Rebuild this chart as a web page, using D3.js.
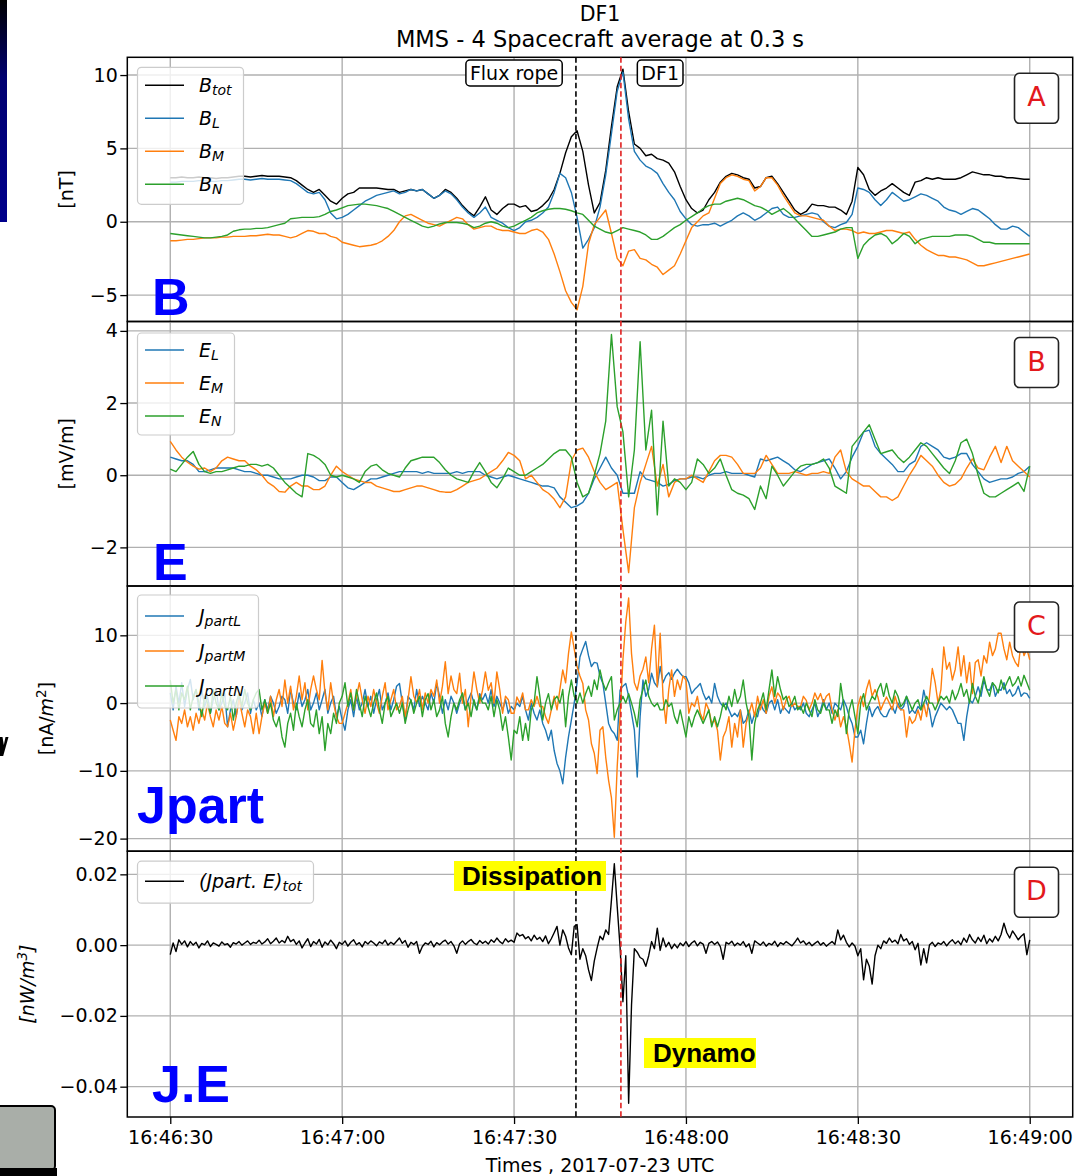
<!DOCTYPE html>
<html>
<head>
<meta charset="utf-8">
<script src="https://cdn.jsdelivr.net/npm/d3@7/dist/d3.min.js"></script>
<style>
html,body{margin:0;padding:0;background:#fff;}
svg{display:block;}
</style>
</head>
<body>
<svg id="chart" width="1075" height="1176"></svg>
<script>
// ================= DATA =================
const startTimeUTC = "2017-07-23T16:46:30Z";
const bStep = 1;    // seconds between samples (magnetic field)
const eStep = 1;    // electric field
const jStep = 0.5;  // particle current density
const jeStep = 0.5; // J.E

const titleLines = ["DF1", "MMS - 4 Spacecraft average at 0.3 s"];
const xAxisTitle = "Times , 2017-07-23 UTC";
const xTickEverySec = 30;

// Panel A : magnetic field [nT]
const bTot = [3.0,3.0,3.05,3.0,3.0,3.05,3.0,3.0,2.95,3.0,
 3.0,3.05,3.1,3.1,3.05,3.1,3.15,3.1,3.1,3.1,
 3.05,3.0,2.8,2.5,2.2,2.0,2.2,1.8,1.4,1.2,
 1.6,1.9,2.0,2.3,2.3,2.3,2.3,2.25,2.2,2.2,
 2.0,2.1,2.2,2.1,2.2,1.9,1.6,1.8,2.2,2.0,
 1.6,1.1,0.7,0.4,1.0,1.7,0.8,0.5,0.9,1.2,
 1.2,1.0,1.1,0.7,0.8,1.1,1.5,2.2,3.3,4.7,
 5.8,6.2,4.8,2.5,0.6,1.3,3.5,6.5,9.2,10.4,
 7.5,5.3,5.0,4.5,4.6,4.3,4.2,4.0,3.4,2.4,
 1.5,0.9,0.6,0.8,1.5,2.0,2.7,3.1,3.3,3.2,
 3.0,2.9,2.3,2.4,3.0,3.1,2.6,2.0,1.4,0.8,
 0.5,0.7,1.2,1.1,1.1,1.0,1.0,0.8,0.5,1.4,
 3.7,3.2,2.2,1.8,2.1,2.3,2.6,2.3,2.0,1.8,
 2.7,2.8,3.0,2.9,3.0,2.9,2.9,2.9,3.0,3.2,
 3.4,3.3,3.2,3.2,3.1,3.1,3.0,3.0,2.95,2.9,
 2.9];
const bL = [2.7,2.7,2.75,2.75,2.75,2.8,2.8,2.75,2.75,2.8,
 2.8,2.85,2.9,2.9,2.85,2.9,2.95,2.9,2.9,2.9,
 2.85,2.8,2.6,2.3,2.0,1.9,2.0,1.5,0.6,0.2,
 0.3,0.5,0.8,1.1,1.4,1.6,1.8,1.9,2.0,2.1,
 1.9,2.0,2.2,2.1,2.2,1.9,1.6,1.8,2.1,1.9,
 1.5,1.0,0.6,0.3,0.6,1.0,0.3,0.1,-0.1,-0.4,
 -0.6,-0.4,0.0,0.1,0.3,0.6,1.0,2.0,3.3,3.0,
 2.0,0.3,-1.8,-1.2,-0.4,1.0,3.2,6.0,8.9,10.2,
 7.0,4.8,4.2,3.8,3.6,3.3,2.6,2.0,1.5,0.7,
 0.2,-0.2,-0.3,-0.2,-0.2,-0.1,-0.3,-0.1,0.1,0.4,
 0.6,0.4,0.1,0.3,0.6,0.9,1.0,0.5,0.3,0.3,
 0.4,0.5,0.6,0.5,0.0,-0.3,-0.4,-0.2,-0.05,0.5,
 2.3,2.2,2.0,1.5,1.1,1.5,2.0,1.7,1.4,1.5,
 1.7,1.9,1.8,1.6,1.4,1.0,0.8,0.7,0.5,0.7,
 0.9,0.8,0.5,0.2,-0.2,-0.5,-0.5,-0.3,-0.4,-0.7,
 -1.0];
const bM = [-1.3,-1.3,-1.25,-1.2,-1.2,-1.15,-1.1,-1.1,-1.1,-1.05,
 -1.05,-1.0,-1.0,-1.0,-0.95,-0.95,-0.9,-0.85,-0.9,-0.9,
 -1.0,-1.1,-1.0,-0.8,-0.6,-0.65,-0.8,-0.8,-1.0,-1.1,
 -1.4,-1.5,-1.6,-1.7,-1.65,-1.6,-1.5,-1.3,-1.0,-0.6,
 0.0,0.4,0.5,0.3,0.1,-0.1,-0.2,-0.3,-0.1,0.1,
 0.3,0.2,-0.2,-0.5,-0.4,-0.3,-0.3,-0.5,-0.6,-0.6,
 -0.7,-0.8,-0.8,-0.6,-0.5,-0.7,-1.2,-2.2,-3.4,-4.7,
 -5.5,-6.0,-4.4,-1.5,-0.2,0.3,0.8,-0.8,-2.5,-3.0,
 -2.0,-1.9,-2.5,-2.6,-2.9,-3.1,-3.6,-3.3,-3.0,-2.2,
 -1.3,-0.4,0.0,0.4,0.6,1.6,2.6,3.0,3.2,3.1,
 2.9,2.8,2.1,2.4,3.0,3.0,2.5,1.8,1.2,0.6,
 0.4,0.4,0.3,0.2,0.1,-0.3,-0.6,-0.5,-0.5,-0.6,
 -0.8,-0.7,-0.8,-0.8,-0.7,-0.6,-0.6,-0.7,-0.8,-0.7,
 -1.2,-1.6,-1.9,-2.1,-2.3,-2.3,-2.4,-2.4,-2.5,-2.6,
 -2.8,-3.0,-3.0,-2.9,-2.8,-2.7,-2.6,-2.5,-2.4,-2.3,
 -2.2];
const bN = [-0.8,-0.85,-0.9,-0.95,-1.0,-1.05,-1.1,-1.1,-1.05,-1.0,
 -0.9,-0.65,-0.55,-0.5,-0.5,-0.45,-0.45,-0.4,-0.3,-0.2,
 -0.1,0.2,0.25,0.3,0.3,0.3,0.35,0.5,0.7,0.8,
 0.95,1.1,1.15,1.2,1.2,1.15,1.1,1.0,0.9,0.7,
 0.5,0.3,0.1,-0.1,-0.3,-0.4,-0.3,-0.15,-0.05,-0.05,
 -0.05,-0.1,-0.2,-0.4,-0.3,-0.1,0.0,-0.1,-0.3,-0.4,
 -0.3,-0.1,0.1,0.3,0.6,0.75,0.85,0.9,0.9,0.85,
 0.75,0.6,0.5,0.1,-0.3,-0.5,-0.7,-0.8,-0.6,-0.4,
 -0.5,-0.6,-0.7,-0.9,-1.2,-1.2,-1.0,-0.7,-0.4,-0.2,
 0.1,0.35,0.6,0.9,1.1,1.2,1.2,1.4,1.5,1.6,
 1.5,1.3,1.1,1.0,0.8,0.5,0.7,0.9,0.6,0.2,
 -0.2,-0.6,-1.0,-1.0,-0.9,-0.8,-0.7,-0.5,-0.4,-0.4,
 -2.5,-1.6,-1.2,-0.9,-0.8,-1.0,-1.5,-1.2,-0.8,-1.0,
 -1.5,-1.2,-1.1,-1.0,-1.0,-1.0,-1.0,-0.9,-0.9,-0.9,
 -1.0,-1.2,-1.4,-1.4,-1.5,-1.5,-1.5,-1.5,-1.5,-1.5,
 -1.5];

// Panel B : electric field [mV/m]
const eL = [0.5,0.45,0.4,0.4,0.3,0.1,0.1,0.15,0.2,0.2,
 0.2,0.2,0.15,0.1,0.1,0.05,0.0,0.0,-0.05,-0.1,
 -0.1,-0.1,-0.05,0.0,0.0,-0.05,-0.15,-0.15,-0.05,-0.05,
 -0.2,-0.35,-0.4,-0.3,-0.2,-0.1,-0.1,-0.05,0.0,0.05,
 0.1,0.1,0.1,0.1,0.05,0.1,0.05,0.05,0.05,0.05,
 0.1,0.05,0.1,0.1,0.1,0.0,-0.05,-0.1,-0.05,0.0,
 -0.05,-0.1,-0.15,-0.2,-0.25,-0.3,-0.3,-0.35,-0.6,-0.75,
 -0.9,-0.85,-0.75,-0.5,-0.1,0.2,0.5,0.2,0.0,-0.5,
 -0.5,-0.5,0.1,-0.1,-0.15,-0.2,-0.3,-0.25,-0.15,-0.1,
 -0.1,-0.05,-0.05,-0.1,0.0,0.05,0.05,0.1,0.05,0.05,
 0.05,0.0,-0.05,0.45,0.4,0.45,0.5,0.4,0.3,0.15,
 0.1,0.2,0.3,0.35,0.4,0.45,0.2,-0.1,0.1,0.5,
 0.8,1.2,1.25,0.8,0.6,0.45,0.3,0.1,0.1,0.3,
 0.4,0.8,0.9,0.8,0.7,0.5,0.45,0.5,0.6,0.6,
 0.3,0.1,-0.1,-0.2,-0.15,-0.1,-0.1,-0.05,0.05,0.1,
 0.25];
const eM = [0.94,0.7,0.5,0.36,0.25,0.17,0.2,0.1,0.2,0.4,
 0.5,0.45,0.4,0.4,0.25,0.15,0.0,-0.2,-0.3,-0.45,
 -0.47,-0.3,-0.2,-0.3,-0.3,-0.4,-0.4,-0.3,0.0,0.25,
 0.1,0.0,-0.1,-0.15,-0.2,-0.2,-0.3,-0.35,-0.4,-0.45,
 -0.45,-0.4,-0.35,-0.3,-0.3,-0.35,-0.4,-0.45,-0.47,-0.47,
 -0.4,-0.3,-0.2,-0.15,-0.1,0.0,0.1,0.2,0.4,0.63,
 0.55,0.4,-0.1,0.0,-0.2,-0.4,-0.5,-0.66,-0.9,-0.6,
 0.4,0.7,0.75,0.5,0.1,-0.2,-0.4,-0.3,-0.2,-1.5,
 -2.7,-0.9,-0.2,0.3,0.8,-0.3,0.3,-0.6,-0.2,-0.1,
 -0.1,0.0,-0.1,-0.2,0.1,0.4,0.55,0.55,0.5,0.3,
 0.05,0.05,0.05,0.2,0.55,0.3,0.05,0.05,0.05,0.1,
 0.05,0.0,0.05,0.05,0.1,0.05,0.5,0.7,0.1,-0.1,
 -0.2,-0.3,-0.3,-0.45,-0.6,-0.6,-0.7,-0.6,-0.3,0.0,
 0.25,0.55,0.4,0.25,0.0,-0.2,-0.3,-0.25,-0.1,0.2,
 0.45,0.2,0.15,0.5,0.8,0.35,0.8,0.4,0.25,0.1,
 -0.05];
const eN = [0.17,0.1,0.3,0.5,0.66,0.3,0.1,0.05,0.1,0.1,
 0.15,0.2,0.25,0.25,0.3,0.3,0.25,0.3,0.2,0.0,
 -0.2,-0.35,-0.5,-0.6,0.6,0.55,0.45,0.3,0.0,-0.05,
 0.0,-0.05,-0.1,-0.2,0.1,0.25,0.3,0.15,0.05,0.0,
 -0.05,0.2,0.4,0.45,0.5,0.5,0.5,0.35,0.15,0.0,
 -0.1,-0.15,-0.2,0.1,0.35,0.1,-0.2,-0.35,-0.1,0.2,
 0.1,0.0,0.0,0.1,0.2,0.3,0.45,0.6,0.7,0.7,
 0.5,-0.2,-0.6,-0.5,0.0,0.6,1.5,3.9,1.9,1.2,
 -0.6,0.7,3.7,0.7,1.8,-1.1,1.5,-0.3,-0.1,-0.2,
 -0.4,-0.2,0.45,0.3,0.05,0.2,0.45,0.0,-0.4,-0.5,
 -0.55,-0.65,-0.95,-0.3,-0.65,0.25,0.0,-0.3,-0.1,0.1,
 0.25,0.3,0.3,0.35,0.45,0.2,-0.3,-0.4,-0.5,0.8,
 1.0,1.2,1.4,1.0,0.6,0.65,0.7,0.5,0.35,0.5,
 0.7,0.9,0.8,0.6,0.4,0.2,0.05,0.4,0.9,1.0,
 0.6,0.0,-0.5,-0.6,-0.6,-0.5,-0.4,-0.3,-0.2,-0.45,
 0.25];

// Panel C : particle current density [nA/m^2]
const jL = [1.5,-1,2.5,0,3,-0.5,2,3.5,0.5,2,
 -1,2,-0.5,1,-1.5,0.5,2,-1,0,1.5,
 -3.5,-1,0.5,-2,1,-1,0,1.5,-1.5,0.5,
 -1,0,-2,0.5,-1,1,0,-1.5,-0.5,1,
 0.5,-1.5,2,0,-1,1.5,-0.5,0.5,2,-1,
 0,1.5,-1,0.5,2,-1.5,0,1,-2,-0.5,
 -2.5,-4,-1,0.5,-2,1,-1,0,2,-0.5,
 1,-1.5,0.5,2,-1,0,1.5,-1,0.5,2.5,
 2.9,0,-2.5,1,0.4,-1,2,-0.5,1,0,
 -1,1.5,0,2.9,1,-1.5,0.5,-1,1,0,
 -1.5,0,1,-1,0.5,1.5,0,-1,1.4,0.5,
 1.4,0,2,-0.5,1,0,-1,0.5,-1.5,-0.5,
 -1,0,-0.5,1,-1,-2.5,0,-1.5,-2.5,-1,
 -3,-4,-5.5,-4,-7,-8.9,-10,-11.9,-8,-5,
 -2.5,0,3,6.8,8,9.1,7,5.4,6,5.9,
 4,2.9,0,-3,-4,-4.5,-5.5,1.9,2.5,2.9,
 1,-1.5,-4,-10.9,-2,3.4,1,2,4.4,3,
 2.4,5.4,3,4,4.5,3.5,4.4,5,4.4,3.9,
 3.9,3,1.4,2,2.4,2.9,1.5,0.5,1,0,
 2.9,1,0,-0.5,0,-1,-2,-1.5,-2,-1,
 -3,-2.5,-1,-3,-1.5,-2,0,-1,-1.5,0,
 0.4,-1,0.5,-1.5,-0.5,-1,-1.5,0,-1,-0.5,
 -1,0,-1.5,-2,-1,0,-2,-1,0.5,-1,
 0,-1.5,0,-0.5,-1,0.5,-0.5,-2,-3,-5,
 -5,-4,-6,-3,-0.5,-2,-1,-0.5,-1.5,-2,
 -2,-1,-0.5,-1.5,0,-1,-0.5,1,-1.5,-1,
 -1.5,-0.5,-1,1.9,0,-1,-3.5,-2,-1,0,
 -0.5,-1,-0.5,-1,-2,-3,-3,-5.5,-2,0.5,
 0,1,2.4,1,3.4,2,1.9,3,1,2,
 1.9,3,1.4,2,1,1.4,2.5,1,1.5,1.4,
 0.7];
const jM = [-2.5,-4,-5.5,-2,-3,-1,-3.5,-2,-4,-1.5,
 -3,-1,-2.5,0,-2,-3.5,-1,-2.5,-0.5,-3,
 -3.5,-1.5,-4,-2,0.5,-1.5,-3.5,-1,-2,-4.5,
 -1.5,-4.5,-2,0,-1.5,1,-2,0.5,2,-0.5,
 3.4,0,2.5,-1,1,4,0.5,3,-1,2,
 4,2,0.5,6.3,1.5,-1,3,0,-2,-3,
 -3,-1.5,0,2,-1,1,3,0.5,-1.5,1,
 -0.5,2,0,-1.5,1,3,-1,0.5,2,-1,
 -0.5,1,-2,0.5,3.9,1,0,2,-1,1.5,
 0,2,1,3.4,0,2.5,6.1,1.4,4,2,
 1.4,4.4,0,2,-3.5,1,4.6,2,0,1.9,
 4.6,1.9,3,0,4.6,2,-1.5,1,0.5,-1.5,
 -1.5,0.9,0,1.5,-1,-1,0.5,-0.5,1,-0.5,
 -0.5,-2,-3,-1,1,-1,2,4.9,3,7.3,
 10.5,8,5.4,4,2.9,-1,-2.5,-6,-7.4,-10.4,
 -4,-3.5,-8,-11.4,-14,-19.8,-9.4,-2,6.4,12,
 15.5,7.3,3,1.9,4,5,6.8,3,8,11.5,
 2.4,10.3,1,-3,2,4.9,1,3.4,2,4,
 3.4,-1.5,0,-0.5,1,-1.5,-2.5,0,-1,-3,
 -2.5,-4,-8.4,-5,-4,-2,-6.5,-3,-5,-1,
 -6.5,-3,-1.5,0,-2,1,-1,0.5,-1.5,1,
 2.4,0,1.5,0.9,-1,0.5,1,-0.5,0,-0.5,
 -0.5,1,0.4,-1,0,1.5,0.5,1.4,0,1,
 1.4,-1,-2.5,-1,-3.5,-2,-3.5,-6,-8.7,-4,
 -0.5,1,-0.5,2,3.4,1,2,0.9,-1,0,
 0.9,0,-1,1,-0.5,-1,-1,-5,-2,-3,
 -2.5,-1,-2.5,0,-2,1,5.1,3,0,2,
 8.3,5,6,3.4,5,8.3,4,7,3,6,
 1.4,6,6.4,4,7,5.9,9,7,8,10.3,
 10.3,8,6.4,9,7,6,5.4,9,7,8,
 6.4];
const jN = [3.4,0,2,-1,1.5,0.5,2.5,-1,1,2,
 0,-2,1,0,-1.5,2,0,-1,1.5,-0.5,
 -1,1,-2.5,0,1.5,-0.5,2,0,-1,0.5,
 1.5,2,-1,0.5,-1.5,0,-2.5,-3.5,-2,-5,
 -6.5,-3,-1.5,-4,0,-2,-3.5,-1,0.5,-3,
 -3.5,-1,-4.5,-2,-7,-3,-4.5,-1.5,-3,0,
 1,3,-0.5,1.5,-1,2,0,-2,1,-0.5,
 -2,0,1.5,-1,-3,0,1,-2,-1,0,
 -1.5,0,-3,-1,0.5,-1.5,0,1,-2,0.5,
 1.4,-1,0.5,-2,-1,1,-3,-5,-2,0,
 -1,0.5,1.5,-1,0,-2,0.5,-1,1,0,
 0,-1,1,-2,0.5,-1,-4,-2,-5,-8.4,
 -4,-4.5,-2,-5.5,-3,-5.5,-1,0,3.9,1,
 -2.5,0,1.4,-1,0.5,1,0,2,-3.5,1,
 3.4,1,0,1.5,0,1.4,2.5,1,3.4,2,
 4.9,3,1.9,3,3.9,-2.5,-1,0,1,0,
 1.4,0,-1.5,-3.5,0.5,2,3.4,1,0,-0.5,
 0,-1,-1,0.5,-0.5,0,-2,-3,-1,-3,
 -5,-2,-3.5,-2,-1,-2,-3,-2,-1,-3.5,
 -2,-3.5,-2,0,-1,1,-0.5,2,0,1,
 3.4,0,-2,-8.4,-3,-1,0,1.5,-1,2,
 4.9,1,3.9,2,0.5,1,-0.5,0,1,-1,
 -0.5,-1.5,0,-1,-2,0.5,-1,-1.5,0,-1,
 -1,-3,-1,-2,2.9,0,-4.5,-1,0.5,-2,
 -4.5,0,1.4,-1,0,1,0.5,2,2.9,1,
 2.9,1,0,1.9,1,-0.5,0,1,0,-1,
 0,0.5,-1,0,1,0,0,-1,0,1,
 0.5,1,0,1.9,0.5,1.5,2.9,1,2,0,
 2.9,1,0,2,3.9,2,1,3,2.5,1.5,
 3.4,2,3,3.9,2.5,3,3.9,2.5,4.1,3,
 1.9];

// Panel D : (Jpart . E)tot [nW/m^3]
const jeTot = [-0.0027,0.0006,-0.0018,0.0015,0.0002,0.0012,-0.0005,0.0010,0.0000,0.0008,
 -0.0008,0.0005,0.0001,0.0012,-0.0004,0.0006,0.0002,-0.0003,0.0009,0.0001,
 0.0004,-0.0006,0.0007,0.0003,0.0010,0.0000,0.0006,0.0012,0.0002,0.0008,
 0.0005,0.0014,0.0003,0.0009,0.0018,0.0004,0.0011,0.0020,0.0006,0.0013,
 0.0007,0.0025,0.0010,0.0016,0.0002,0.0012,-0.0008,0.0006,0.0018,-0.0004,
 0.0010,0.0003,0.0016,-0.0006,0.0009,0.0001,0.0014,0.0004,-0.0010,0.0008,
 0.0002,0.0012,-0.0003,0.0008,0.0015,0.0001,0.0007,-0.0005,0.0010,0.0003,
 0.0012,0.0006,-0.0002,0.0009,0.0004,0.0014,0.0000,0.0008,0.0002,0.0011,
 0.0020,0.0005,0.0013,-0.0006,0.0008,0.0002,0.0010,-0.0023,-0.0004,0.0006,
 0.0002,0.0011,-0.0005,0.0007,0.0001,0.0009,0.0014,0.0003,0.0010,-0.0002,
 -0.0023,0.0004,0.0012,0.0002,0.0010,0.0016,0.0006,0.0001,0.0013,0.0005,
 0.0011,0.0003,0.0015,0.0008,0.0020,0.0010,0.0004,0.0018,0.0009,0.0014,
 0.0008,0.0034,0.0026,0.0030,0.0018,0.0024,0.0012,0.0028,0.0016,0.0022,
 0.0010,0.0026,0.0004,0.0018,0.0035,0.0053,0.0000,0.0043,0.0025,-0.0008,
 -0.0027,0.0053,0.0058,-0.0040,-0.0010,-0.0030,-0.0070,-0.0100,-0.0045,-0.0008,
 0.0025,0.0015,0.0043,0.0030,0.0128,0.0230,0.0110,-0.0005,-0.0160,-0.0030,
 -0.0447,-0.0170,-0.0010,-0.0020,-0.0035,-0.0040,-0.0060,-0.0030,0.0010,-0.0010,
 0.0048,-0.0015,0.0020,-0.0005,0.0008,-0.0010,0.0003,-0.0008,0.0006,-0.0002,
 0.0010,-0.0004,0.0006,0.0012,-0.0002,0.0008,0.0003,-0.0023,0.0005,0.0010,
 0.0002,0.0009,-0.0004,-0.0040,0.0008,0.0003,0.0011,-0.0002,0.0006,0.0000,
 0.0010,-0.0005,0.0004,-0.0023,0.0012,0.0006,0.0000,0.0009,-0.0003,0.0005,
 0.0001,0.0011,-0.0004,0.0007,0.0002,0.0010,0.0004,-0.0002,0.0008,0.0020,
 0.0006,0.0012,0.0001,0.0008,-0.0002,0.0005,0.0011,0.0000,0.0007,-0.0003,
 0.0004,0.0010,0.0002,0.0043,0.0015,0.0028,0.0008,-0.0005,0.0006,-0.0003,
 -0.0030,-0.0010,-0.0098,-0.0040,-0.0060,-0.0110,-0.0030,0.0000,-0.0010,0.0012,
 0.0005,0.0020,0.0008,0.0014,0.0004,0.0030,0.0012,0.0018,0.0002,0.0010,
 -0.0013,0.0005,-0.0056,-0.0010,-0.0050,0.0000,0.0008,-0.0004,0.0006,0.0002,
 0.0010,-0.0002,0.0008,0.0015,0.0004,0.0012,0.0001,0.0020,0.0008,0.0030,
 0.0015,0.0006,0.0022,0.0010,0.0028,0.0004,0.0018,0.0009,0.0025,0.0012,
 0.0030,0.0062,0.0035,0.0020,0.0040,0.0028,0.0015,0.0025,0.0032,-0.0027,
 0.0015];

// axis ticks and ranges
const yTicksB = [-5, 0, 5, 10];
const yTicksE = [-2, 0, 2, 4];
const yTicksJ = [-20, -10, 0, 10];
const yTicksJE = [-0.04, -0.02, 0, 0.02];
const yDomainB = [-6.80, 11.21];
const yDomainE = [-3.07, 4.26];
const yDomainJ = [-21.86, 17.28];
const yDomainJE = [-0.04857, 0.02654];

// event markers (seconds after start)
const fluxRopeSec = 70.8;
const df1Sec = 78.65;
const eventLabels = ["Flux rope", "DF1"];
const eventLabelSec = [60.0, 85.5];
const panelLetters = ["A", "B", "C", "D"];
const bigLabels = ["B", "E", "Jpart", "J.E"];
const legendB = [["B","tot"],["B","L"],["B","M"],["B","N"]];
const legendE = [["E","L"],["E","M"],["E","N"]];
const legendJ = [["J","partL"],["J","partM"],["J","partN"]];
const legendJE = [["(Jpart. E)","tot"]];
const highlightLabels = ["Dissipation", "Dynamo"];

// ================= DRAWING =================
const C_BLUE = "#1f77b4", C_ORANGE = "#ff7f0e", C_GREEN = "#2ca02c", C_BLACK = "#000000";
const FONT = "'DejaVu Sans', sans-serif";
const BOLD = "'Liberation Sans', Arial, sans-serif";
const svg = d3.select("#chart");
const defs = svg.append("defs");

const L = 127.3, R = 1072.7;
const edges = [57.3, 321.5, 586, 851.2, 1117];

// slide artefacts on the left edge (decorative shapes)
const grad = defs.append("linearGradient").attr("id","slideBar").attr("x1",0).attr("y1",0).attr("x2",0).attr("y2",1);
grad.append("stop").attr("offset","0").attr("stop-color","#000000");
grad.append("stop").attr("offset","0.35").attr("stop-color","#000070");
grad.append("stop").attr("offset","1").attr("stop-color","#00008b");
svg.append("rect").attr("x",0).attr("y",0).attr("width",7).attr("height",222).attr("fill","url(#slideBar)");
svg.append("path").attr("d","M0,737 L2.5,737 L3.8,745 L5.5,737 L8.5,737 L3.2,756 L0,756 Z").attr("fill","#000");
svg.append("rect").attr("x",-4).attr("y",1106).attr("width",59).attr("height",64).attr("rx",4)
  .attr("fill","#a9aea8").attr("stroke","#000").attr("stroke-width",2);
svg.append("rect").attr("x",0).attr("y",1168).attr("width",57).attr("height",8).attr("fill","#000");

const t0 = Date.parse(startTimeUTC);
const spanSec = (bTot.length - 1) * bStep;
const margin = spanSec * 0.05;
const x = d3.scaleUtc()
  .domain([new Date(t0 - margin*1000), new Date(t0 + (spanSec + margin)*1000)])
  .range([L, R]);
const xTicks = x.ticks(d3.utcSecond.every(xTickEverySec));
const sec = s => new Date(t0 + s*1000);

// title
svg.append("text").attr("x",(L+R)/2).attr("y",21).attr("text-anchor","middle")
  .attr("font-family",FONT).attr("font-size",20.5).attr("fill","#000").text(titleLines[0]);
svg.append("text").attr("x",(L+R)/2).attr("y",47).attr("text-anchor","middle")
  .attr("font-family",FONT).attr("font-size",22.5).attr("fill","#000").text(titleLines[1]);

const panels = [
  { domain: yDomainB, ticks: yTicksB, fmt: d3.format("d"),
    series: [{v:bTot,s:bStep,c:C_BLACK},{v:bL,s:bStep,c:C_BLUE},{v:bM,s:bStep,c:C_ORANGE},{v:bN,s:bStep,c:C_GREEN}],
    legend: legendB, colors:[C_BLACK,C_BLUE,C_ORANGE,C_GREEN],
    lg: {dy:10, w:106, h:137, first:18, gap:33},
    ylab: {x:73, parts:[{t:"[nT]"}]},
    big: {x:152, y:315} },
  { domain: yDomainE, ticks: yTicksE, fmt: d3.format("d"),
    series: [{v:eL,s:eStep,c:C_BLUE},{v:eM,s:eStep,c:C_ORANGE},{v:eN,s:eStep,c:C_GREEN}],
    legend: legendE, colors:[C_BLUE,C_ORANGE,C_GREEN],
    lg: {dy:11.5, w:97, h:102, first:17, gap:33},
    ylab: {x:73, parts:[{t:"[mV/m]"}]},
    big: {x:153, y:580} },
  { domain: yDomainJ, ticks: yTicksJ, fmt: d3.format("d"),
    series: [{v:jL,s:jStep,c:C_BLUE},{v:jM,s:jStep,c:C_ORANGE},{v:jN,s:jStep,c:C_GREEN}],
    legend: legendJ, colors:[C_BLUE,C_ORANGE,C_GREEN],
    lg: {dy:9, w:121, h:113, first:21, gap:35},
    ylab: {x:53, parts:[{t:"[nA/"},{t:"m",i:true},{t:"2",sup:true},{t:"]",dy:7}]},
    big: {x:137, y:823} },
  { domain: yDomainJE, ticks: yTicksJE, fmt: d3.format(".2f"),
    series: [{v:jeTot,s:jeStep,c:C_BLACK}],
    legend: legendJE, colors:[C_BLACK],
    lg: {dy:10, w:176, h:42, first:20, gap:33},
    ylab: {x:34, parts:[{t:"[nW/m",i:true},{t:"3",i:true,sup:true},{t:"]",i:true,dy:7}]},
    big: {x:152, y:1102} }
];

panels.forEach((p, i) => {
  const top = edges[i], bot = edges[i+1];
  const y = d3.scaleLinear().domain(p.domain).range([bot, top]);
  const g = svg.append("g");
  defs.append("clipPath").attr("id","clip"+i).append("rect")
    .attr("x",L).attr("y",top).attr("width",R-L).attr("height",bot-top);

  g.selectAll("line.vg").data(xTicks).join("line").attr("class","vg")
    .attr("x1",d=>x(d)).attr("x2",d=>x(d)).attr("y1",top).attr("y2",bot)
    .attr("stroke","#b0b0b0").attr("stroke-width",1.4);
  g.selectAll("line.hg").data(p.ticks).join("line").attr("class","hg")
    .attr("x1",L).attr("x2",R).attr("y1",d=>y(d)).attr("y2",d=>y(d))
    .attr("stroke","#b0b0b0").attr("stroke-width",1.4);

  const line = d3.line().x(d=>x(d[0])).y(d=>y(d[1]));
  p.series.forEach(s => {
    const pts = s.v.map((v,k)=>[sec(k*s.s), v]);
    g.append("path").attr("d", line(pts)).attr("fill","none").attr("stroke",s.c)
      .attr("stroke-width",1.4).attr("stroke-linejoin","round").attr("clip-path",`url(#clip${i})`);
  });

  g.append("rect").attr("x",L).attr("y",top).attr("width",R-L).attr("height",bot-top)
    .attr("fill","none").attr("stroke","#000").attr("stroke-width",1.5);

  const ag = svg.append("g").attr("transform",`translate(${L},0)`)
    .call(d3.axisLeft(y).tickValues(p.ticks).tickFormat(p.fmt).tickSize(7).tickPadding(2.5));
  ag.select(".domain").remove();
  ag.selectAll("text").attr("font-family",FONT).attr("font-size",19).attr("fill","#000");
  ag.selectAll("line").attr("stroke","#000").attr("stroke-width",1.3);

  // y axis label
  const yl = svg.append("text").attr("transform",`translate(${p.ylab.x},${(top+bot)/2}) rotate(-90)`)
    .attr("text-anchor","middle").attr("font-family",FONT).attr("font-size",19).attr("fill","#000");
  p.ylab.parts.forEach(pt => {
    const ts = yl.append("tspan").text(pt.t);
    if (pt.i) ts.attr("font-style","italic");
    if (pt.sup) ts.attr("font-size",13.5).attr("dy",-7);
    if (pt.dy) ts.attr("dy",pt.dy);
  });

  // legend
  const lgX = 137.5, lgY = top + p.lg.dy;
  const lg = svg.append("g");
  lg.append("rect").attr("x",lgX).attr("y",lgY).attr("width",p.lg.w).attr("height",p.lg.h).attr("rx",4)
    .attr("fill","#fff").attr("fill-opacity",0.8).attr("stroke","#cccccc").attr("stroke-width",1.2);
  p.legend.forEach((lab, k) => {
    const ry = lgY + p.lg.first + k*p.lg.gap;
    lg.append("line").attr("x1",145).attr("x2",184).attr("y1",ry).attr("y2",ry)
      .attr("stroke",p.colors[k]).attr("stroke-width",1.4);
    const tx = lg.append("text").attr("x",199).attr("y",ry+7).attr("font-family",FONT)
      .attr("font-size",19).attr("font-style","italic").attr("fill","#000");
    tx.append("tspan").text(lab[0]);
    tx.append("tspan").attr("font-size",14).attr("dy",3).text(lab[1]);
  });

  // panel letter box
  const bx = 1014.5, by = top + 16;
  svg.append("rect").attr("x",bx).attr("y",by).attr("width",44).attr("height",50).attr("rx",5)
    .attr("fill","#fff").attr("stroke","#222").attr("stroke-width",1.6);
  svg.append("text").attr("x",bx+22).attr("y",by+33).attr("text-anchor","middle")
    .attr("font-family",FONT).attr("font-size",27).attr("fill","#e3191c").text(panelLetters[i]);

  // big blue label
  svg.append("text").attr("x",p.big.x).attr("y",p.big.y).attr("font-family",BOLD)
    .attr("font-weight","bold").attr("font-size",52).attr("fill","#0000ff").text(bigLabels[i]);
});

// x axis on the bottom panel
const xg = svg.append("g").attr("transform",`translate(0,${edges[4]})`)
  .call(d3.axisBottom(x).ticks(d3.utcSecond.every(xTickEverySec)).tickFormat(d3.utcFormat("%H:%M:%S"))
    .tickSize(7).tickPadding(7));
xg.select(".domain").remove();
xg.selectAll("text").attr("font-family",FONT).attr("font-size",19).attr("fill","#000");
xg.selectAll("line").attr("stroke","#000").attr("stroke-width",1.3);
svg.append("text").attr("x",(L+R)/2).attr("y",1172).attr("text-anchor","middle")
  .attr("font-family",FONT).attr("font-size",19).attr("fill","#000").text(xAxisTitle);

// event lines
[[fluxRopeSec,"#000"],[df1Sec,"#e02020"]].forEach(([s,c]) => {
  svg.append("line").attr("x1",x(sec(s))).attr("x2",x(sec(s))).attr("y1",edges[0]).attr("y2",edges[4])
    .attr("stroke",c).attr("stroke-width",1.6).attr("stroke-dasharray","5.5,3");
});

// event labels (top panel)
eventLabels.forEach((lab, k) => {
  const cx = x(sec(eventLabelSec[k]));
  const t = svg.append("text").attr("x",cx).attr("y",80).attr("text-anchor","middle")
    .attr("font-family",FONT).attr("font-size",19).attr("fill","#000").text(lab);
  const bb = t.node().getBBox();
  svg.insert("rect", () => t.node()).attr("x",bb.x-4).attr("y",60).attr("width",bb.width+8).attr("height",26)
    .attr("rx",4).attr("fill","#fff").attr("stroke","#000").attr("stroke-width",1.5);
});

// highlight labels (bottom panel)
const hl = [{x:454, y:861, w:152, h:30, tx:462, ty:885}, {x:644, y:1038, w:112, h:30, tx:653, ty:1062}];
highlightLabels.forEach((lab, k) => {
  const h = hl[k];
  svg.append("rect").attr("x",h.x).attr("y",h.y).attr("width",h.w).attr("height",h.h).attr("fill","#ffff00");
  svg.append("text").attr("x",h.tx).attr("y",h.ty).attr("font-family",BOLD).attr("font-weight","bold")
    .attr("font-size",26).attr("fill","#000").text(lab);
});
</script>
</body>
</html>
